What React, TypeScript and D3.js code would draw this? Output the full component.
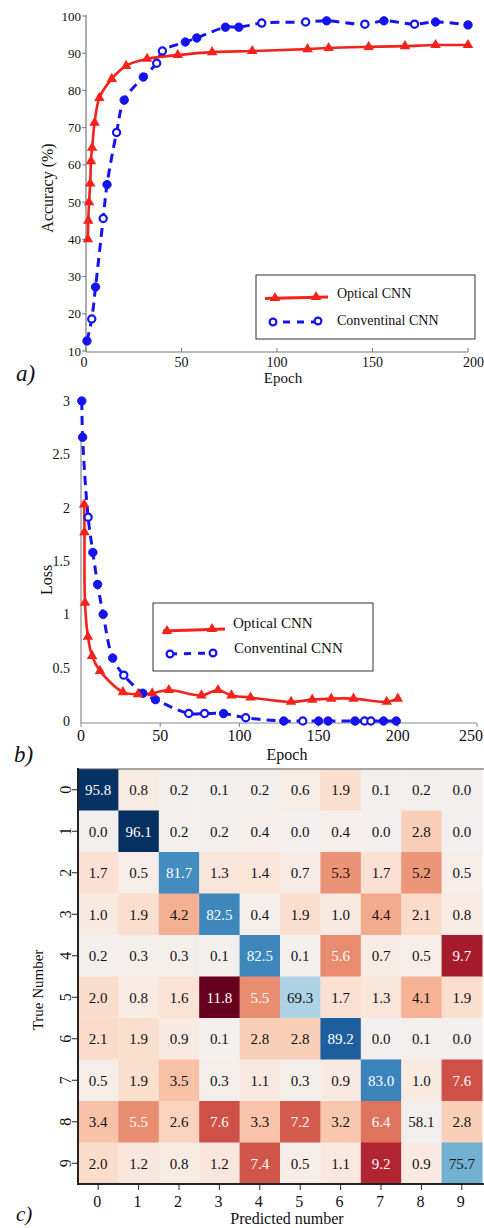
import React from "react";
import * as d3 from "d3";

const FONT = "\"Liberation Serif\", \"DejaVu Serif\", \"Times New Roman\", serif";
const RED = "#f5221b";
const BLUE = "#1414f0";

// ---- Chart a: accuracy ----
const accOpticalEpoch = [1, 1.2, 1.6, 2.2, 2.6, 3.2, 4.5, 7, 13.5, 21, 32, 48, 66, 87, 116, 127, 148, 167, 183, 200];
const accOptical = [40, 45, 50, 55, 61, 64.6, 71.3, 78, 83.1, 86.6, 88.5, 89.5, 90.3, 90.6, 91.1, 91.4, 91.7, 91.9, 92.2, 92.2];
const accConvEpoch = [0.5, 3, 5, 9, 11, 16, 20, 30, 37, 40, 52, 58, 73, 80, 92, 115, 126, 146, 156, 172, 183, 200];
const accConv = [12.7, 18.6, 27.2, 45.6, 54.7, 68.7, 77.4, 83.6, 87.3, 90.6, 93, 94.1, 97, 97, 98.1, 98.4, 98.7, 97.8, 98.7, 97.8, 98.4, 97.6];
const accConvOpen = [0, 1, 0, 1, 0, 1, 0, 0, 1, 1, 0, 0, 0, 0, 1, 1, 0, 1, 0, 1, 0, 0];
const accXTicks = [0, 50, 100, 150, 200];
const accYTicks = [10, 20, 30, 40, 50, 60, 70, 80, 90, 100];

// ---- Chart b: loss ----
const lossOpticalEpoch = [2, 2.2, 2.5, 4.4, 7, 12, 26.5, 36, 45, 55.5, 76, 86.5, 95, 107, 132.6, 146, 158, 172, 193, 200];
const lossOptical = [2.03, 1.77, 1.11, 0.79, 0.61, 0.47, 0.27, 0.25, 0.26, 0.29, 0.24, 0.29, 0.24, 0.22, 0.18, 0.2, 0.21, 0.21, 0.18, 0.21];
const lossConvEpoch = [0.5, 1, 4.5, 7.5, 10.5, 14, 20, 27, 39, 47, 68, 78, 90, 104, 128, 140, 150, 156, 173, 179, 183, 191, 199];
const lossConv = [3.0, 2.66, 1.91, 1.58, 1.28, 1.0, 0.59, 0.43, 0.26, 0.2, 0.07, 0.07, 0.07, 0.03, 0.0, 0.0, 0.0, 0.0, 0.0, 0.0, 0.0, 0.0, 0.0];
const lossConvOpen = [0, 0, 1, 0, 0, 0, 0, 1, 0, 0, 1, 1, 0, 1, 0, 1, 0, 0, 0, 1, 1, 0, 0];
const lossXTicks = [0, 50, 100, 150, 200, 250];
const lossYTicks = [0, 0.5, 1, 1.5, 2, 2.5, 3];

// ---- Chart c: confusion matrix ----
const digits = ["0", "1", "2", "3", "4", "5", "6", "7", "8", "9"];
const row0 = [95.8, 0.8, 0.2, 0.1, 0.2, 0.6, 1.9, 0.1, 0.2, 0.0];
const row1 = [0.0, 96.1, 0.2, 0.2, 0.4, 0.0, 0.4, 0.0, 2.8, 0.0];
const row2 = [1.7, 0.5, 81.7, 1.3, 1.4, 0.7, 5.3, 1.7, 5.2, 0.5];
const row3 = [1.0, 1.9, 4.2, 82.5, 0.4, 1.9, 1.0, 4.4, 2.1, 0.8];
const row4 = [0.2, 0.3, 0.3, 0.1, 82.5, 0.1, 5.6, 0.7, 0.5, 9.7];
const row5 = [2.0, 0.8, 1.6, 11.8, 5.5, 69.3, 1.7, 1.3, 4.1, 1.9];
const row6 = [2.1, 1.9, 0.9, 0.1, 2.8, 2.8, 89.2, 0.0, 0.1, 0.0];
const row7 = [0.5, 1.9, 3.5, 0.3, 1.1, 0.3, 0.9, 83.0, 1.0, 7.6];
const row8 = [3.4, 5.5, 2.6, 7.6, 3.3, 7.2, 3.2, 6.4, 58.1, 2.8];
const row9 = [2.0, 1.2, 0.8, 1.2, 7.4, 0.5, 1.1, 9.2, 0.9, 75.7];
const matrix = [row0, row1, row2, row3, row4, row5, row6, row7, row8, row9];

const tf = { fontFamily: FONT };

function BlueMarkers({ xs, ys, open, x, y }: any) {
  return (
    <g>
      {xs.map((e: number, i: number) => (
        <circle key={i} cx={x(e)} cy={y(ys[i])} r={open[i] ? 3.6 : 4.2}
          fill={open[i] ? "#fff" : BLUE} stroke={BLUE} strokeWidth={open[i] ? 2.2 : 1} />
      ))}
    </g>
  );
}

function RedMarkers({ xs, ys, x, y }: any) {
  const tri = d3.symbol(d3.symbolTriangle, 48)();
  return (
    <g>
      {xs.map((e: number, i: number) => (
        <path key={i} d={tri as string} transform={`translate(${x(e)},${y(ys[i])})`} fill={RED} />
      ))}
    </g>
  );
}

function ChartA() {
  const x = d3.scaleLinear([0, 200], [86, 468]);
  const y = d3.scaleLinear([10, 100], [351, 16]);
  const line = d3.line<[number, number]>().x((d) => x(d[0])).y((d) => y(d[1])).curve(d3.curveCatmullRom.alpha(0.5));
  const red = line(accOpticalEpoch.map((e, i) => [e, accOptical[i]]) as any) as string;
  const blue = line(accConvEpoch.map((e, i) => [e, accConv[i]]) as any) as string;
  return (
    <g style={tf} fill="#111">
      <line x1={86} y1={15} x2={86} y2={352} stroke="#777" strokeWidth={1.2} />
      <line x1={86} y1={352} x2={468} y2={352} stroke="#777" strokeWidth={1.2} />
      {accYTicks.map((t) => (
        <g key={t}>
          <line x1={82} x2={86} y1={y(t)} y2={y(t)} stroke="#777" />
          <text x={81} y={y(t)} dy="0.35em" textAnchor="end" fontSize={13} style={tf}>{t}</text>
        </g>
      ))}
      {accXTicks.map((t) => (
        <g key={t}>
          <line x1={x(t)} x2={x(t)} y1={352} y2={348} stroke="#777" />
          <text x={t === 200 ? 484 : x(t) - (t === 0 ? 2 : 0)} y={367} textAnchor={t === 200 ? "end" : "middle"} fontSize={14} style={tf}>{t}</text>
        </g>
      ))}
      <text x={283} y={383} textAnchor="middle" fontSize={15} style={tf}>Epoch</text>
      <text transform="translate(53,188) rotate(-90)" textAnchor="middle" fontSize={16} style={tf}>Accuracy (%)</text>
      <text x={16} y={381} fontSize={23} fontStyle="italic" style={tf}>a)</text>
      <path d={blue} fill="none" stroke={BLUE} strokeWidth={3} strokeDasharray="9,6" />
      <path d={red} fill="none" stroke={RED} strokeWidth={2.6} />
      <BlueMarkers xs={accConvEpoch} ys={accConv} open={accConvOpen} x={x} y={y} />
      <RedMarkers xs={accOpticalEpoch} ys={accOptical} x={x} y={y} />
      {/* legend */}
      <rect x={256} y={275} width={219} height={64} fill="#fff" stroke="#333" strokeWidth={1} />
      <line x1={265} x2={328} y1={298.5} y2={297} stroke={RED} strokeWidth={3} />
      <path d={d3.symbol(d3.symbolTriangle, 48)() as string} transform="translate(275,298)" fill={RED} />
      <path d={d3.symbol(d3.symbolTriangle, 48)() as string} transform="translate(316,297)" fill={RED} />
      <text x={337} y={298} fontSize={14} style={tf}>Optical CNN</text>
      <line x1={269} x2={320} y1={322} y2={322} stroke={BLUE} strokeWidth={3} strokeDasharray="7,7" />
      <circle cx={273} cy={322} r={3.4} fill="#fff" stroke={BLUE} strokeWidth={2.2} />
      <circle cx={318} cy={321} r={3.4} fill="#fff" stroke={BLUE} strokeWidth={2.2} />
      <text x={337} y={325} fontSize={14} style={tf}>Conventinal CNN</text>
    </g>
  );
}

function ChartB() {
  const x = d3.scaleLinear([0, 250], [81, 477]);
  const y = d3.scaleLinear([0, 3], [721, 401]);
  const line = d3.line<[number, number]>().x((d) => x(d[0])).y((d) => y(d[1])).curve(d3.curveCatmullRom.alpha(0.5));
  const red = line(lossOpticalEpoch.map((e, i) => [e, lossOptical[i]]) as any) as string;
  const blue = line(lossConvEpoch.map((e, i) => [e, lossConv[i]]) as any) as string;
  return (
    <g style={tf} fill="#111">
      <line x1={81} y1={440} x2={81} y2={723} stroke="#888" strokeWidth={1.2} />
      <line x1={81} y1={723} x2={477} y2={723} stroke="#888" strokeWidth={1.2} />
      {lossYTicks.map((t) => (
        <text key={t} x={70} y={y(t)} dy="0.35em" textAnchor="end" fontSize={14} style={tf}>{t}</text>
      ))}
      {lossXTicks.map((t) => (
        <g key={t}>
          <line x1={x(t)} x2={x(t)} y1={723} y2={727} stroke="#888" />
          <text x={t === 250 ? 483 : x(t)} y={741} textAnchor={t === 250 ? "end" : "middle"} fontSize={16} style={tf}>{t}</text>
        </g>
      ))}
      <text x={287} y={760} textAnchor="middle" fontSize={16} style={tf}>Epoch</text>
      <text transform="translate(52,580) rotate(-90)" textAnchor="middle" fontSize={16} style={tf}>Loss</text>
      <text x={14} y={762} fontSize={23} fontStyle="italic" style={tf}>b)</text>
      <path d={blue} fill="none" stroke={BLUE} strokeWidth={3} strokeDasharray="9,6" />
      <path d={red} fill="none" stroke={RED} strokeWidth={2.6} />
      <BlueMarkers xs={lossConvEpoch} ys={lossConv} open={lossConvOpen} x={x} y={y} />
      <RedMarkers xs={lossOpticalEpoch} ys={lossOptical} x={x} y={y} />
      {/* legend */}
      <rect x={153} y={603} width={220} height={68} fill="#fff" stroke="#333" strokeWidth={1} />
      <line x1={163} x2={225} y1={631} y2={629} stroke={RED} strokeWidth={3} />
      <path d={d3.symbol(d3.symbolTriangle, 48)() as string} transform="translate(167,631)" fill={RED} />
      <path d={d3.symbol(d3.symbolTriangle, 48)() as string} transform="translate(212,629)" fill={RED} />
      <text x={233} y={628} fontSize={15} style={tf}>Optical CNN</text>
      <line x1={170} x2={214} y1={654} y2={653} stroke={BLUE} strokeWidth={3} strokeDasharray="7,7" />
      <circle cx={170} cy={654} r={3.4} fill="#fff" stroke={BLUE} strokeWidth={2.2} />
      <circle cx={213} cy={653} r={3.4} fill="#fff" stroke={BLUE} strokeWidth={2.2} />
      <text x={234} y={653} fontSize={15} style={tf}>Conventinal CNN</text>
    </g>
  );
}

function ChartC() {
  const x = d3.scaleBand(digits, [78, 482]);
  const y = d3.scaleBand(digits, [769, 1184]);
  const diagT = d3.scalePow().exponent(0.8).domain([58, 96.1]).range([0.5, 1]).clamp(true);
  const offT = d3.scaleLinear([0, 11.8], [0.5, 0]).clamp(true);
  return (
    <g style={tf}>
      {matrix.map((row, r) =>
        row.map((v, c) => {
          const t = r === c ? diagT(v) : offT(v);
          const fill = d3.interpolateRdBu(t);
          const white = t < 0.27 || t > 0.8;
          return (
            <g key={`${r}-${c}`}>
              <rect x={x(digits[c])} y={y(digits[r])} width={x.bandwidth() + 0.5} height={y.bandwidth() + 0.5} fill={fill} />
              <text x={(x(digits[c]) as number) + x.bandwidth() / 2} y={(y(digits[r]) as number) + y.bandwidth() / 2}
                dy="0.35em" textAnchor="middle" fontSize={15} fill={white ? "#fff" : "#111"} style={tf}>{v.toFixed(1)}</text>
            </g>
          );
        })
      )}
      <line x1={78} x2={484} y1={769} y2={769} stroke="#555" strokeWidth={1.2} />
      <line x1={78} x2={78} y1={768} y2={1185} stroke="#222" strokeWidth={2} />
      <line x1={77} x2={484} y1={1184} y2={1184} stroke="#222" strokeWidth={2} />
      {digits.map((d) => (
        <g key={d}>
          <line x1={72} x2={78} y1={(y(d) as number) + y.bandwidth() / 2} y2={(y(d) as number) + y.bandwidth() / 2} stroke="#222" />
          <text transform={`translate(65,${(y(d) as number) + y.bandwidth() / 2}) rotate(-90)`} dy="0.35em" textAnchor="middle" fontSize={16} fill="#111" style={tf}>{d}</text>
          <line x1={(x(d) as number) + x.bandwidth() / 2} x2={(x(d) as number) + x.bandwidth() / 2} y1={1184} y2={1190} stroke="#222" />
          <text x={(x(d) as number) + x.bandwidth() / 2 - 1} y={1207} textAnchor="middle" fontSize={16} fill="#111" style={tf}>{d}</text>
        </g>
      ))}
      <text x={287} y={1224} textAnchor="middle" fontSize={16} fill="#111" style={tf}>Predicted number</text>
      <text transform="translate(38,990) rotate(-90)" dy="0.35em" textAnchor="middle" fontSize={15} fill="#111" style={tf}>True Number</text>
      <text x={16} y={1221} fontSize={21} fontStyle="italic" fill="#111" style={tf}>c)</text>
    </g>
  );
}

export default function App() {
  return (
    <svg width={484} height={1228} viewBox="0 0 484 1228"
      style={{ position: "absolute", left: 0, top: 0, background: "#fff" }}>
      <rect width={484} height={1228} fill="#fff" />
      <ChartA />
      <ChartB />
      <ChartC />
    </svg>
  );
}
